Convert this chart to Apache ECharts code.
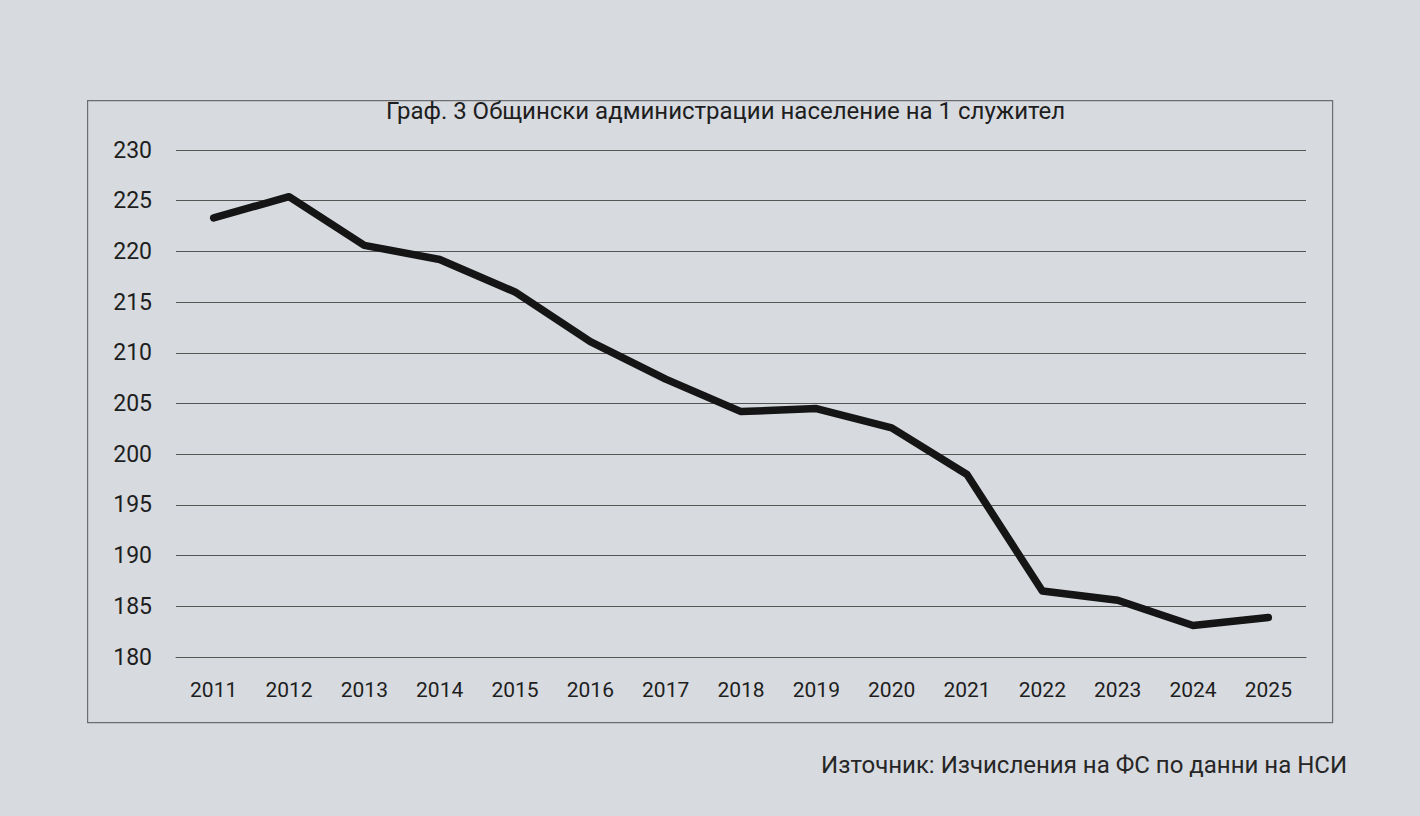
<!DOCTYPE html>
<html>
<head>
<meta charset="utf-8">
<script src="https://cdn.jsdelivr.net/npm/echarts@6/dist/echarts.min.js"></script>
<style>
  html, body { margin: 0; padding: 0; background: #d7dadf; }
  #chart { width: 1420px; height: 816px; }
</style>
</head>
<body>
<div id="chart"></div>
<script>
// години по оста X
const years = ['2011', '2012', '2013', '2014', '2015', '2016', '2017', '2018',
  '2019', '2020', '2021', '2022', '2023', '2024', '2025']
// население на 1 служител (отчетено от графиката)
const perEmployee = [223.3, 225.4, 220.6, 219.2, 216.0, 211.1, 207.4, 204.2,
  204.5, 202.6, 198.0, 186.5, 185.6, 183.1, 183.9]
const titleText = 'Граф. 3 Общински администрации население на 1 служител'
const sourceText = 'Източник: Изчисления на ФС по данни на НСИ'

const chart = echarts.init(document.getElementById('chart'), null, { renderer: 'svg' })

chart.setOption({
  backgroundColor: '#d7dadf',
  animation: false,
  textStyle: { fontFamily: 'Roboto' },
  title: [{
    text: titleText,
    left: 381,
    top: 94,
    textStyle: { fontFamily: 'Roboto', fontSize: 24, fontWeight: 'normal', color: '#1e1e1e' }
  }, {
    text: sourceText,
    right: 68,
    top: 748,
    textStyle: { fontFamily: 'Roboto', fontSize: 24, fontWeight: 'normal', color: '#262626' }
  }],
  graphic: [{
    type: 'rect',
    left: 87,
    top: 100,
    shape: { width: 1245, height: 622 },
    style: { fill: 'transparent', stroke: '#6b6d70', lineWidth: 1.2 },
    z: -1
  }],
  grid: {
    left: 176,
    right: 114,
    top: 150,
    bottom: 159
  },
  xAxis: {
    type: 'category',
    data: years,
    boundaryGap: true,
    axisLine: { show: true, lineStyle: { color: '#555', width: 1 } },
    axisTick: { show: false },
    axisLabel: { color: '#1e1e1e', fontSize: 21, margin: 22 }
  },
  yAxis: {
    type: 'value',
    min: 180,
    max: 230,
    interval: 5,
    axisLine: { show: false },
    axisTick: { show: false },
    axisLabel: { color: '#1e1e1e', fontSize: 23, margin: 24 },
    splitLine: { show: true, lineStyle: { color: '#555', width: 1 } }
  },
  series: [{
    type: 'line',
    data: perEmployee,
    symbol: 'none',
    smooth: false,
    lineStyle: { color: '#151515', width: 7.5, cap: 'round', join: 'round' }
  }]
})
</script>
</body>
</html>
